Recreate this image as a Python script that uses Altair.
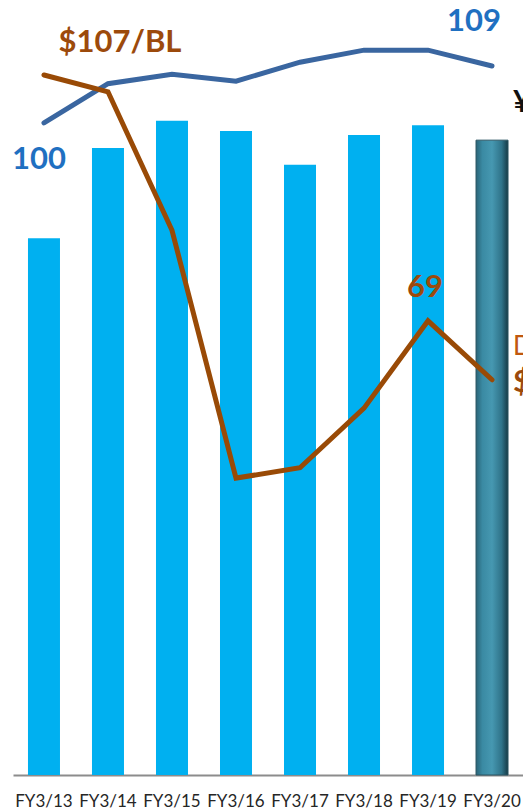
import altair as alt
import pandas as pd

categories = ["FY3/13", "FY3/14", "FY3/15", "FY3/16", "FY3/17", "FY3/18", "FY3/19", "FY3/20"]
bar_values = [83.1, 97.1, 101.3, 99.7, 94.5, 99.1, 100.6, 98.3]
yen_values = [100, 106.2, 107.7, 106.6, 109.6, 111.5, 111.5, 109]
oil_values = [107, 104.4, 83.0, 44.7, 46.3, 55.5, 69, 59.9]

df = pd.DataFrame({"cat": categories, "bar": bar_values, "yen": yen_values, "oil": oil_values})

X = alt.X(
    "cat:N",
    sort=categories,
    title=None,
    scale=alt.Scale(paddingInner=0.5, paddingOuter=0.234),
    axis=alt.Axis(
        labelAngle=0, ticks=False, grid=False, domainColor="#8c8c8c", domainWidth=2,
        labelFont="Lato", labelFontSize=17, labelColor="#262626", labelPadding=18,
    ),
)

bar_scale = alt.Scale(domain=[0, 120])
yen_scale = alt.Scale(domain=[-2.95, 119.42])
oil_scale = alt.Scale(domain=[-1.19, 118.59])

base = alt.Chart(df)

bars = base.transform_filter("datum.cat != 'FY3/20'").mark_bar(color="#00B0F0").encode(
    x=X, y=alt.Y("bar:Q", scale=bar_scale, axis=None)
)

grad = alt.LinearGradient(
    gradient="linear", x1=0, x2=1, y1=0, y2=0,
    stops=[
        alt.GradientStop(color="#2a6477", offset=0),
        alt.GradientStop(color="#3a8aa3", offset=0.2),
        alt.GradientStop(color="#4698b1", offset=0.5),
        alt.GradientStop(color="#2f7389", offset=0.8),
        alt.GradientStop(color="#163a46", offset=1),
    ],
)
last_bar = base.transform_filter("datum.cat == 'FY3/20'").mark_bar(
    fill=grad, stroke="#2b5563", strokeWidth=1
).encode(x=X, y=alt.Y("bar:Q", scale=bar_scale, axis=None))

yen_line = base.mark_line(color="#3A66A0", strokeWidth=5, strokeCap="round").encode(
    x=X, y=alt.Y("yen:Q", scale=yen_scale, axis=None)
)
oil_line = base.mark_line(color="#994A06", strokeWidth=5, strokeCap="round").encode(
    x=X, y=alt.Y("oil:Q", scale=oil_scale, axis=None)
)

lbl = dict(font="Lato", fontWeight="bold", fontSize=31)

yen_first = base.transform_filter("datum.cat == 'FY3/13'").mark_text(
    color="#1F70C1", dx=-5, dy=37, **lbl
).encode(x=X, y=alt.Y("yen:Q", scale=yen_scale, axis=None), text=alt.Text("yen:Q", format=".0f"))

yen_last = base.transform_filter("datum.cat == 'FY3/20'").mark_text(
    color="#1F70C1", dx=-18, dy=-44, **lbl
).encode(x=X, y=alt.Y("yen:Q", scale=yen_scale, axis=None), text=alt.Text("yen:Q", format=".0f"))

yen_unit = base.transform_filter("datum.cat == 'FY3/20'").mark_text(
    color="#111111", dx=21, dy=37, align="left", text="¥/$", **lbl
).encode(x=X, y=alt.Y("yen:Q", scale=yen_scale, axis=None))

oil_first = base.transform_filter("datum.cat == 'FY3/13'").transform_calculate(
    t="'$' + format(datum.oil, '.0f') + '/BL'"
).mark_text(color="#9C4A0C", dx=76, dy=-32, **lbl).encode(
    x=X, y=alt.Y("oil:Q", scale=oil_scale, axis=None), text="t:N"
)

oil_peak = base.transform_filter("datum.cat == 'FY3/19'").mark_text(
    color="#9C4A0C", dx=-3, dy=-33, **lbl
).encode(x=X, y=alt.Y("oil:Q", scale=oil_scale, axis=None), text=alt.Text("oil:Q", format=".0f"))

oil_name = base.transform_filter("datum.cat == 'FY3/20'").mark_text(
    color="#C0580E", dx=21, dy=-33, align="left", font="Lato", fontSize=26, text="Dubai"
).encode(x=X, y=alt.Y("oil:Q", scale=oil_scale, axis=None))

oil_last = base.transform_filter("datum.cat == 'FY3/20'").mark_text(
    color="#9C4A0C", dx=21, dy=3, align="left", text="$60/BL", **lbl
).encode(x=X, y=alt.Y("oil:Q", scale=oil_scale, axis=None))

chart = alt.layer(
    bars, last_bar, yen_line, oil_line, yen_first, yen_last, yen_unit,
    oil_first, oil_peak, oil_name, oil_last
).resolve_scale(y="independent").properties(
    width=510, height=775, autosize="none",
    padding={"left": 13, "top": 0, "right": 0, "bottom": 37},
    background="white",
).configure_view(stroke=None)

chart.save("out.html", embed_options={"renderer": "svg", "actions": False})
